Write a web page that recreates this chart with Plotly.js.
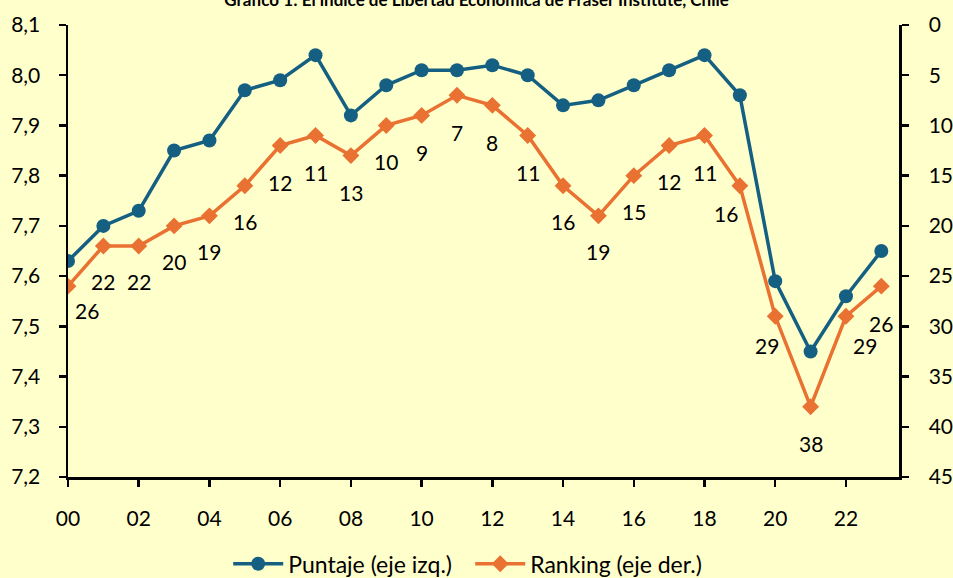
<!DOCTYPE html>
<html>
<head>
<meta charset="utf-8">
<script src="https://cdn.plot.ly/plotly-3.0.1.min.js"></script>
<style>
  html, body { margin: 0; padding: 0; background: #FFFFCC; }
  #chart { width: 953px; height: 578px; }
</style>
</head>
<body>
<div id="chart"></div>
<script>
// ---- Data ----
const years = [2000, 2001, 2002, 2003, 2004, 2005, 2006, 2007, 2008, 2009, 2010, 2011,
               2012, 2013, 2014, 2015, 2016, 2017, 2018, 2019, 2020, 2021, 2022, 2023];
const puntaje = [7.63, 7.70, 7.73, 7.85, 7.87, 7.97, 7.99, 8.04, 7.92, 7.98, 8.01, 8.01,
                 8.02, 8.00, 7.94, 7.95, 7.98, 8.01, 8.04, 7.96, 7.59, 7.45, 7.56, 7.65];
const ranking = [26, 22, 22, 20, 19, 16, 12, 11, 13, 10, 9, 7,
                 8, 11, 16, 19, 15, 12, 11, 16, 29, 38, 29, 26];
const xTickVals = [2000, 2002, 2004, 2006, 2008, 2010, 2012, 2014, 2016, 2018, 2020, 2022];
const xTickLabels = ["00", "02", "04", "06", "08", "10", "12", "14", "16", "18", "20", "22"];
const seriesNames = ["Puntaje (eje izq.)", "Ranking (eje der.)"];
const titleText = "Gráfico 1: El índice de Libertad Económica de Fraser Institute, Chile";

// ---- Label placement (style only: pixel offsets of ranking labels) ----
const labelDx = [19, 0, 0, 0, 0, 0, 0, 0, 0, 0, 0, 0, 0, 0, 0, 0, 0, 0, 0, -14, -8, 0, 19, 0];
const labelDy = [24, 36, 36, 36, 36, 36, 37, 37, 37, 36, 37, 37, 37, 37, 36, 36, 36, 36, 37, 28, 29, 37, 29, 37];

const FONT = "Lato, 'Open Sans', sans-serif";
const BLUE = "#156082";
const ORANGE = "#E97132";

const traces = [
  {
    x: years, y: puntaje, name: seriesNames[0], type: "scatter", mode: "lines+markers",
    line: { color: BLUE, width: 3.5 },
    marker: { color: BLUE, size: 14, symbol: "circle" },
    yaxis: "y", hoverinfo: "x+y"
  },
  {
    x: years, y: ranking, name: seriesNames[1], type: "scatter", mode: "lines+markers",
    line: { color: ORANGE, width: 3.5 },
    marker: { color: ORANGE, size: 13, symbol: "diamond" },
    yaxis: "y2", hoverinfo: "x+y"
  }
];

const annotations = ranking.map((r, i) => ({
  x: years[i], y: r, xref: "x", yref: "y2",
  text: String(r), showarrow: false,
  xshift: labelDx[i], yshift: -labelDy[i],
  font: { family: FONT, size: 21, color: "#000000" }
}));

const layout = {
  width: 953, height: 578,
  paper_bgcolor: "#FFFFCC", plot_bgcolor: "#FFFFCC",
  separators: ",.",
  font: { family: FONT, size: 21, color: "#000000" },
  margin: { l: 68, r: 54, t: 25, b: 101, autoexpand: false },
  title: {
    text: "<b>" + titleText + "</b>",
    font: { family: FONT, size: 17, color: "#000000" },
    x: 0.5, xanchor: "center", xref: "container",
    y: 1, yanchor: "middle", yref: "container"
  },
  showlegend: true,
  legend: {
    orientation: "h", x: 0.484, xanchor: "center", xref: "paper",
    y: -0.192, yanchor: "middle", yref: "paper",
    font: { family: FONT, size: 23, color: "#000000" },
    bgcolor: "rgba(0,0,0,0)", itemwidth: 50,
    entrywidth: 177, entrywidthmode: "pixels"
  },
  xaxis: {
    range: [2000, 2023.5], automargin: false, tickangle: 0,
    tickmode: "array", tickvals: xTickVals, ticktext: xTickLabels,
    ticks: "outside", ticklen: 7, tickwidth: 2.5, tickcolor: "#000000",
    showline: true, linecolor: "#000000", linewidth: 2.5,
    showgrid: false, zeroline: false,
    ticklabelstandoff: 14,
    tickfont: { family: FONT, size: 21, color: "#000000" }
  },
  yaxis: {
    range: [7.2, 8.1], dtick: 0.1, tick0: 7.2, tickformat: ".1f", automargin: false,
    ticks: "outside", ticklen: 7, tickwidth: 2.5, tickcolor: "#000000",
    showline: true, linecolor: "#000000", linewidth: 2.5,
    showgrid: false, zeroline: false,
    ticklabelstandoff: 14,
    tickfont: { family: FONT, size: 21, color: "#000000" }
  },
  yaxis2: {
    overlaying: "y", side: "right", automargin: false,
    range: [45, 0], dtick: 5, tick0: 0,
    ticks: "outside", ticklen: 7, tickwidth: 2.5, tickcolor: "#000000",
    showline: true, linecolor: "#000000", linewidth: 2.5,
    showgrid: false, zeroline: false,
    ticklabelstandoff: 16,
    tickfont: { family: FONT, size: 21, color: "#000000" }
  },
  annotations: annotations
};

Plotly.newPlot("chart", traces, layout, { displayModeBar: false, staticPlot: true });
</script>
</body>
</html>
